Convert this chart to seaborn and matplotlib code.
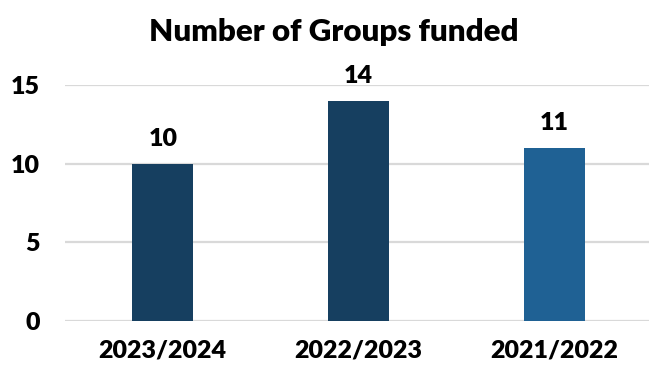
import matplotlib
matplotlib.use("Agg")
import matplotlib.pyplot as plt
import seaborn as sns
import pandas as pd

# Funding data per financial year
years = ["2023/2024", "2022/2023", "2021/2022"]
groups_funded = [10, 14, 11]
bar_colors = ["#163f60", "#163f60", "#1f6194"]
y_ticks = [0, 5, 10, 15]

df = pd.DataFrame({"year": years, "groups": groups_funded})

sns.set_theme(style="white")
plt.rcParams["font.family"] = ["Lato", "DejaVu Sans"]
WEIGHT = "heavy"

fig = plt.figure(figsize=(6.49, 3.69), dpi=100)
ax = fig.add_axes([0.1, 0.13, 0.905, 0.64])

sns.barplot(data=df, x="year", y="groups", hue="year", palette=bar_colors,
            width=0.31, legend=False, ax=ax, zorder=3, saturation=1,
            linewidth=0, edgecolor="none")

ax.set_ylim(0, 15)
ax.set_xlim(-0.5, 2.5)
ax.set_yticks(y_ticks)
ax.yaxis.grid(True, color="#d9d9d9", linewidth=1.6, zorder=0)
ax.xaxis.grid(False)
for s in ax.spines.values():
    s.set_visible(False)
ax.set_xlabel("")
ax.set_ylabel("")
ax.tick_params(axis="both", length=0, labelsize=18)
ax.tick_params(axis="x", pad=13)
ax.tick_params(axis="y", pad=18)
for lbl in ax.get_xticklabels() + ax.get_yticklabels():
    lbl.set_fontweight(WEIGHT)
    lbl.set_color("black")

for i, v in enumerate(groups_funded):
    ax.annotate(str(v), xy=(i, v), xytext=(0, 10), textcoords="offset points",
                ha="center", va="bottom", fontsize=18, fontweight=WEIGHT,
                color="black", annotation_clip=False)

fig.text(334 / 649, 1 - 32 / 369, "Number of Groups funded", ha="center",
         va="center", fontsize=22.5, fontweight=WEIGHT, color="black")

fig.savefig("out.png", dpi=100)
